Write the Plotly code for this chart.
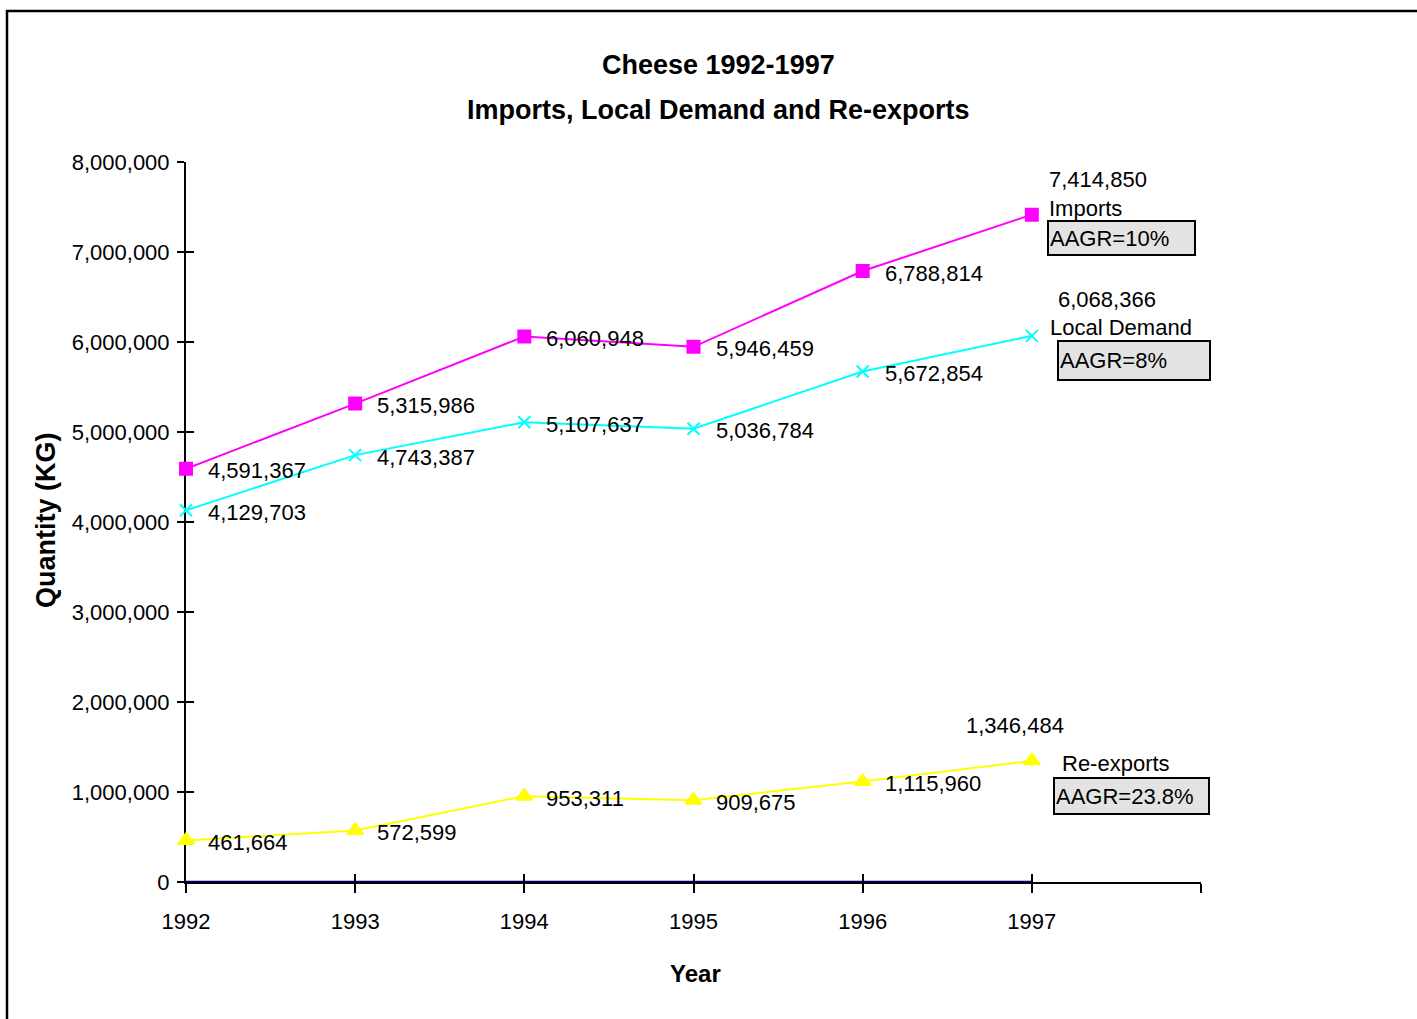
import plotly.graph_objects as go

# Cheese trade volumes, 1992-1997 (kg)
years = ["1992", "1993", "1994", "1995", "1996", "1997"]
imports = [4591367, 5315986, 6060948, 5946459, 6788814, 7414850]
local_demand = [4129703, 4743387, 5107637, 5036784, 5672854, 6068366]
re_exports = [461664, 572599, 953311, 909675, 1115960, 1346484]
aagr = {"Imports": "AAGR=10%", "Local Demand": "AAGR=8%", "Re-exports": "AAGR=23.8%"}

y_ticks = [0, 1000000, 2000000, 3000000, 4000000, 5000000, 6000000, 7000000, 8000000]

W, H = 1417, 1019
L, R, T, B = 186, 1201, 162, 882  # plot area in pixels
FONT = "Liberation Sans, Arial, sans-serif"

xs = list(range(len(years)))

fig = go.Figure()

# baseline along the zero line
fig.add_trace(go.Scatter(x=[xs[0], xs[-1]], y=[0, 0], mode="lines",
                         line=dict(color="#000080", width=2.5),
                         hoverinfo="skip", showlegend=False, cliponaxis=False))

series = [
    ("Imports", imports, "#FF00FF", "square", 12),
    ("Local Demand", local_demand, "#00FFFF", "x-thin-open", 12),
    ("Re-exports", re_exports, "#FFFF00", "triangle-up", 14),
]
for name, vals, col, sym, size in series:
    fig.add_trace(go.Scatter(
        x=xs, y=vals, mode="lines+markers", name=name,
        line=dict(color=col, width=2),
        marker=dict(symbol=sym, size=size, color=col,
                    line=dict(color=col, width=2)),
        showlegend=False, cliponaxis=False))

annotations = []
lab_font = dict(family=FONT, size=22, color="black")

# value labels on the first five points of each series
for name, vals, col, sym, size in series:
    for i in range(len(vals) - 1):
        annotations.append(dict(x=xs[i], y=vals[i], text=f"{vals[i]:,}",
                                showarrow=False, xanchor="left", yanchor="middle",
                                xshift=20, yshift=-2, font=lab_font))

# end-of-series labels: value, series name and growth box
end_layout = {
    "Imports": dict(val=(15, 35, "left"), name=(15, 6), box=(15, -23, 143, 30)),
    "Local Demand": dict(val=(24, 36, "left"), name=(16, 8), box=(25, -25, 148, 35)),
    "Re-exports": dict(val=(-17, 35, "center"), name=(28, -3), box=(21, -35, 151, 32)),
}
for name, vals, col, sym, size in series:
    e = end_layout[name]
    vx, vy, va = e["val"]
    annotations.append(dict(x=xs[-1], y=vals[-1], text=f"{vals[-1]:,}", showarrow=False,
                            xanchor=va, yanchor="middle", xshift=vx, yshift=vy, font=lab_font))
    nx, ny = e["name"]
    annotations.append(dict(x=xs[-1], y=vals[-1], text=name, showarrow=False,
                            xanchor="left", yanchor="middle", xshift=nx, yshift=ny, font=lab_font))
    bx, by, bw, bh = e["box"]
    annotations.append(dict(x=xs[-1], y=vals[-1], text=aagr[name], showarrow=False,
                            xanchor="left", yanchor="middle", xshift=bx, yshift=by,
                            width=bw, height=bh, align="left", valign="middle",
                            bgcolor="#E3E3E3", bordercolor="black", borderwidth=2,
                            borderpad=1, font=lab_font))

def px_x(p):
    return (p - L) / (R - L)

def px_y(p):
    return (B - p) / (B - T)

# titles
title_font = dict(family=FONT, size=27, color="black")
annotations.append(dict(xref="paper", yref="paper", x=px_x(718), y=px_y(65),
                        text="<b>Cheese 1992-1997</b>", showarrow=False,
                        xanchor="center", yanchor="middle", font=title_font))
annotations.append(dict(xref="paper", yref="paper", x=px_x(718), y=px_y(110),
                        text="<b>Imports, Local Demand and Re-exports</b>", showarrow=False,
                        xanchor="center", yanchor="middle", font=title_font))
annotations.append(dict(xref="paper", yref="paper", x=px_x(695), y=px_y(973),
                        text="<b>Year</b>", showarrow=False,
                        xanchor="center", yanchor="middle",
                        font=dict(family=FONT, size=24, color="black")))
annotations.append(dict(xref="paper", yref="paper", x=px_x(46), y=px_y(520),
                        text="<b>Quantity (KG)</b>", showarrow=False, textangle=-90,
                        xanchor="center", yanchor="middle",
                        font=dict(family=FONT, size=27, color="black")))

# outer frame
shapes = [dict(type="rect", xref="paper", yref="paper",
               x0=px_x(7), x1=px_x(1440), y0=px_y(1040), y1=px_y(11),
               line=dict(color="black", width=2.5), layer="below")]

tick_font = dict(family=FONT, size=22, color="black")
fig.update_layout(
    width=W, height=H,
    margin=dict(l=L, r=W - R, t=T, b=H - B, pad=0),
    paper_bgcolor="white", plot_bgcolor="white",
    showlegend=False,
    annotations=annotations, shapes=shapes,
    xaxis=dict(range=[0, 6], tickmode="array", tickvals=list(range(7)),
               ticktext=years + [""], ticks="outside", ticklen=9, tickwidth=2,
               tickcolor="black", showline=True, linecolor="black", linewidth=2,
               showgrid=False, zeroline=False, tickfont=tick_font,
               ticklabelstandoff=10, fixedrange=True, layer="below traces"),
    yaxis=dict(range=[0, 8000000], tickmode="array", tickvals=y_ticks,
               ticktext=[f"{v:,}" for v in y_ticks], ticks="outside", ticklen=7,
               tickwidth=2, tickcolor="black", showline=True, linecolor="black",
               linewidth=2, showgrid=False, zeroline=False, tickfont=tick_font,
               ticklabelstandoff=3, fixedrange=True, layer="below traces"),
    # companion axes drawing the inner half of the cross ticks
    xaxis2=dict(overlaying="x", side="bottom", range=[0, 6], tickmode="array",
                tickvals=list(range(7)), ticktext=[""] * 7, ticks="inside",
                ticklen=8, tickwidth=2, tickcolor="black", showline=False,
                showgrid=False, zeroline=False, fixedrange=True),
    yaxis2=dict(overlaying="y", side="left", range=[0, 8000000], tickmode="array",
                tickvals=y_ticks, ticktext=[""] * len(y_ticks), ticks="inside",
                ticklen=8, tickwidth=2, tickcolor="black", showline=False,
                showgrid=False, zeroline=False, fixedrange=True),
)
# invisible trace to activate the companion axes
fig.add_trace(go.Scatter(x=[0], y=[0], xaxis="x2", yaxis="y2", mode="markers",
                         marker=dict(opacity=0), hoverinfo="skip", showlegend=False))

fig.write_html("out.html")
